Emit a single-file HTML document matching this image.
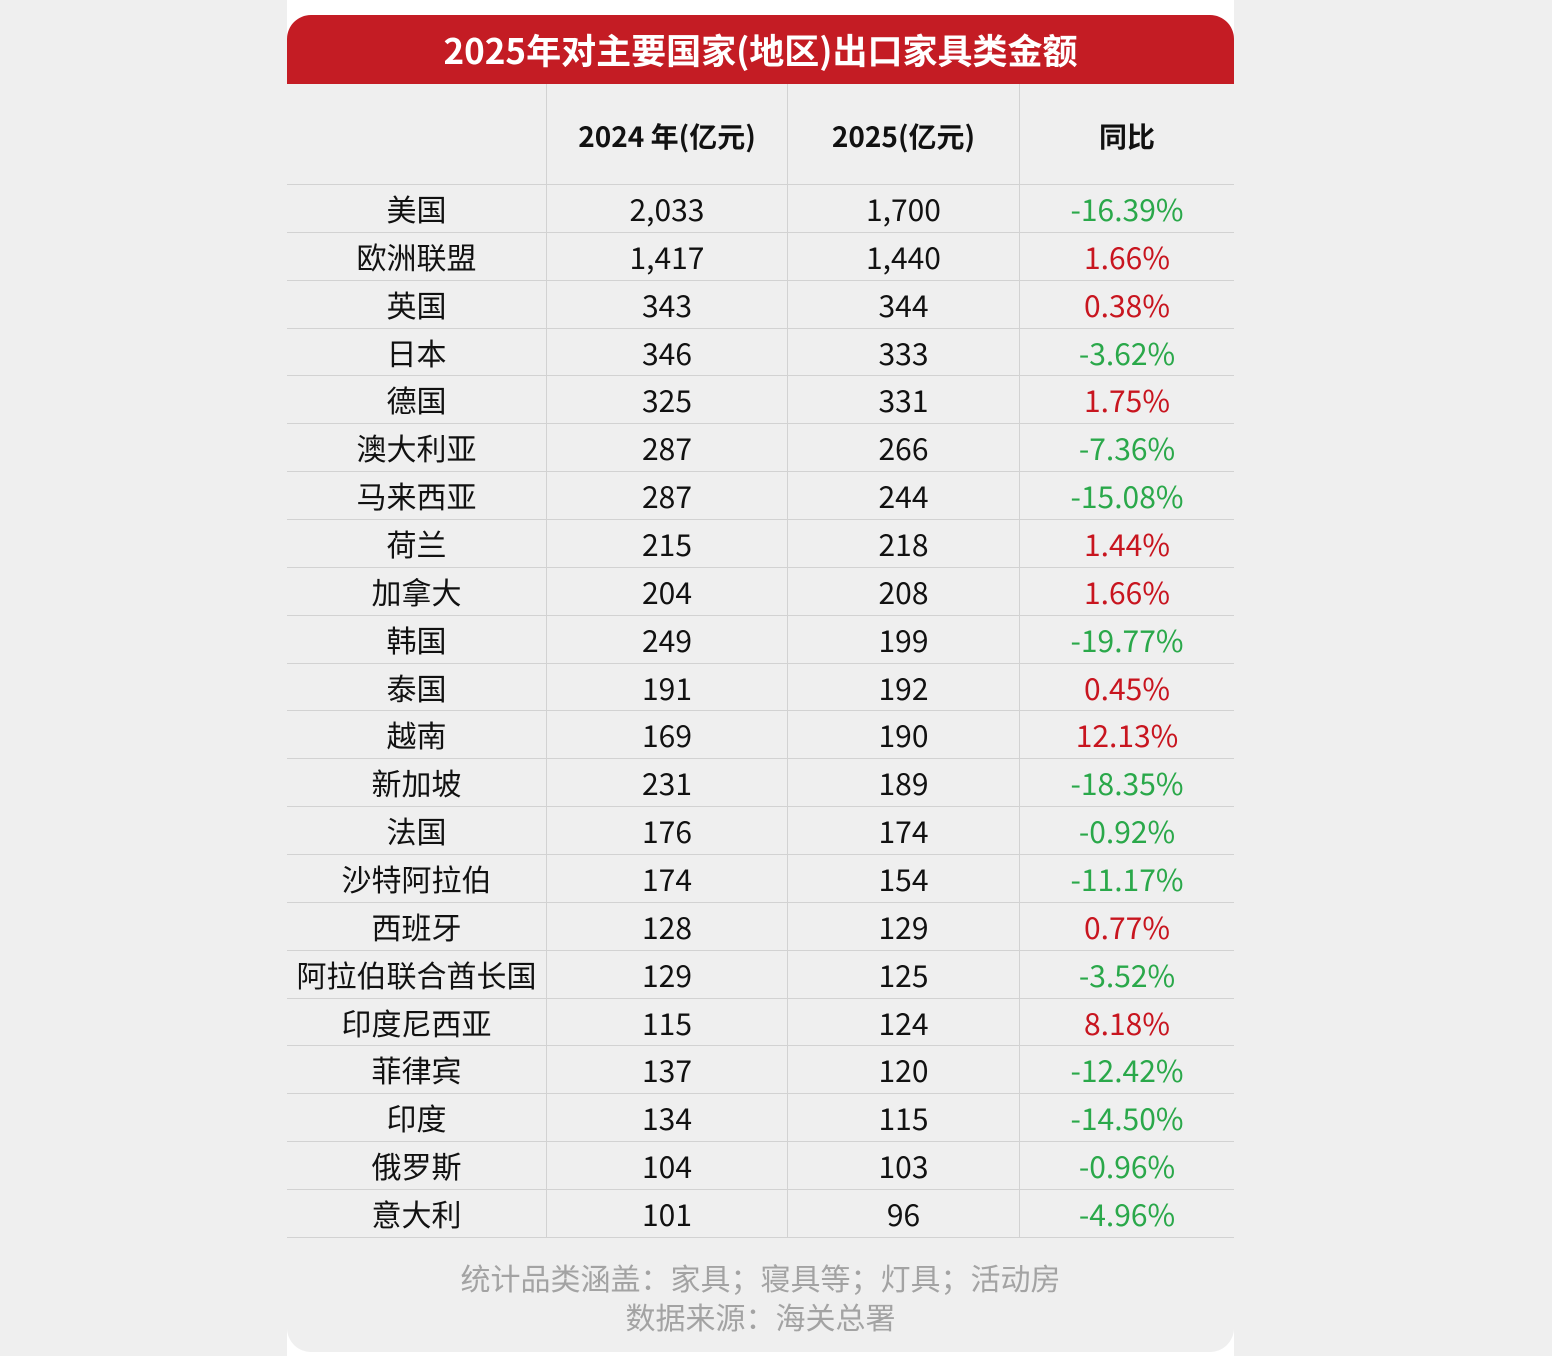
<!DOCTYPE html>
<html><head><meta charset="utf-8"><style>
html,body{margin:0;padding:0;}
body{width:1552px;height:1356px;background:#efefef;position:relative;overflow:hidden;font-family:"Noto Sans CJK SC","Liberation Sans",sans-serif;}
.white{position:absolute;left:287px;top:0;width:947px;height:1356px;background:#fff;}
.card{position:absolute;left:287px;top:15px;width:947px;height:1337px;background:#efefef;border-radius:24px;overflow:hidden;}
.hdr{position:absolute;left:0;top:0;width:947px;height:69px;background:#c41c24;color:#fff;font-weight:bold;font-size:35px;text-align:center;line-height:69px;}
.row{position:absolute;left:0;width:947px;height:47.86px;box-sizing:border-box;border-bottom:1px solid #d2d2d2;display:flex;}
.row div{box-sizing:border-box;border-right:1px solid #d2d2d2;text-align:center;font-size:30px;color:#111;line-height:46px;}
.row div:nth-child(1){width:260px}.row div:nth-child(2){width:241px}.row div:nth-child(3){width:232px}.row div:nth-child(4){width:214px;border-right:none}
.row.h{height:101px}.row.h div{line-height:104px;font-weight:bold;font-size:28px;}
.g{color:#2aa84a!important;}.r{color:#c8151f!important;}
.foot{position:absolute;left:0;top:1243px;width:947px;text-align:center;color:#a3a3a3;font-size:30px;line-height:39px;}
</style></head><body>
<div class="white"></div>
<div class="card">
<div class="hdr">2025年对主要国家(地区)出口家具类金额</div>
<div class="row h" style="top:69px"><div></div><div>2024 年(亿元)</div><div>2025(亿元)</div><div>同比</div></div>
<div class="row" style="top:170px"><div>美国</div><div>2,033</div><div>1,700</div><div class="g">-16.39%</div></div>
<div class="row" style="top:217.86px"><div>欧洲联盟</div><div>1,417</div><div>1,440</div><div class="r">1.66%</div></div>
<div class="row" style="top:265.72px"><div>英国</div><div>343</div><div>344</div><div class="r">0.38%</div></div>
<div class="row" style="top:313.58px"><div>日本</div><div>346</div><div>333</div><div class="g">-3.62%</div></div>
<div class="row" style="top:361.44px"><div>德国</div><div>325</div><div>331</div><div class="r">1.75%</div></div>
<div class="row" style="top:409.3px"><div>澳大利亚</div><div>287</div><div>266</div><div class="g">-7.36%</div></div>
<div class="row" style="top:457.16px"><div>马来西亚</div><div>287</div><div>244</div><div class="g">-15.08%</div></div>
<div class="row" style="top:505.02px"><div>荷兰</div><div>215</div><div>218</div><div class="r">1.44%</div></div>
<div class="row" style="top:552.88px"><div>加拿大</div><div>204</div><div>208</div><div class="r">1.66%</div></div>
<div class="row" style="top:600.74px"><div>韩国</div><div>249</div><div>199</div><div class="g">-19.77%</div></div>
<div class="row" style="top:648.6px"><div>泰国</div><div>191</div><div>192</div><div class="r">0.45%</div></div>
<div class="row" style="top:696.46px"><div>越南</div><div>169</div><div>190</div><div class="r">12.13%</div></div>
<div class="row" style="top:744.32px"><div>新加坡</div><div>231</div><div>189</div><div class="g">-18.35%</div></div>
<div class="row" style="top:792.18px"><div>法国</div><div>176</div><div>174</div><div class="g">-0.92%</div></div>
<div class="row" style="top:840.04px"><div>沙特阿拉伯</div><div>174</div><div>154</div><div class="g">-11.17%</div></div>
<div class="row" style="top:887.9px"><div>西班牙</div><div>128</div><div>129</div><div class="r">0.77%</div></div>
<div class="row" style="top:935.76px"><div>阿拉伯联合酋长国</div><div>129</div><div>125</div><div class="g">-3.52%</div></div>
<div class="row" style="top:983.62px"><div>印度尼西亚</div><div>115</div><div>124</div><div class="r">8.18%</div></div>
<div class="row" style="top:1031.48px"><div>菲律宾</div><div>137</div><div>120</div><div class="g">-12.42%</div></div>
<div class="row" style="top:1079.34px"><div>印度</div><div>134</div><div>115</div><div class="g">-14.50%</div></div>
<div class="row" style="top:1127.2px"><div>俄罗斯</div><div>104</div><div>103</div><div class="g">-0.96%</div></div>
<div class="row" style="top:1175.06px"><div>意大利</div><div>101</div><div>96</div><div class="g">-4.96%</div></div>
<div class="foot">统计品类涵盖：家具；寝具等；灯具；活动房<br>数据来源：海关总署</div>
</div>
</body></html>
